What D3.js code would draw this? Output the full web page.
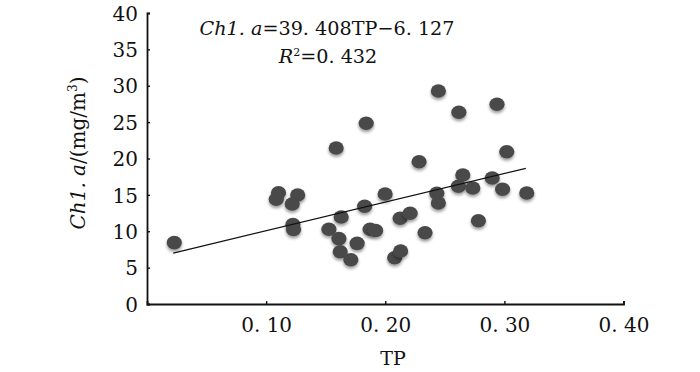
<!DOCTYPE html>
<html><head><meta charset="utf-8">
<script src="https://cdn.jsdelivr.net/npm/d3@7"></script>
<style>
html,body{margin:0;padding:0;background:#fff;}
svg text{font-family:"DejaVu Serif","Liberation Serif",serif;fill:#111;}
</style></head>
<body><svg id="c" width="700" height="372"></svg>
<script>
// Data
const tp = [0.0229,0.1104,0.1085,0.1265,0.1219,0.1225,0.1230,0.1588,0.1840,0.1630,
            0.1527,0.1611,0.1622,0.1711,0.1764,0.1873,0.1919,0.1827,0.1999,0.2125,
            0.2209,0.2079,0.2129,0.2284,0.2334,0.2433,0.2446,0.2446,0.2618,0.2938,
            0.3020,0.2651,0.2898,0.2614,0.2735,0.2985,0.3188,0.2782];
const chla = [8.43,15.30,14.39,14.98,13.75,10.93,10.24,21.44,24.84,11.96,
              10.27,8.98,7.19,6.09,8.34,10.27,10.10,13.43,15.12,11.78,
              12.47,6.36,7.29,19.56,9.80,15.22,13.88,29.28,26.35,27.45,
              20.93,17.73,17.32,16.18,15.95,15.77,15.26,11.44];
const xTicks = [0.10,0.20,0.30,0.40];
const yTicks = [0,5,10,15,20,25,30,35,40];
const fitSlope = 39.408, fitIntercept = 6.127; // as drawn
const fitRange = [0.022, 0.318];

const svg = d3.select("#c");
const x = d3.scaleLinear().domain([0,0.4]).range([147,623.5]);
const y = d3.scaleLinear().domain([0,40]).range([304,13]);

const defs = svg.append("defs");
const f = defs.append("filter").attr("id","sh").attr("x","-50%").attr("y","-50%").attr("width","200%").attr("height","200%");
f.append("feDropShadow").attr("dx",0).attr("dy",2.2).attr("stdDeviation",1.8)
 .attr("flood-color","#000").attr("flood-opacity",0.4);

// axes
const xAxis = d3.axisBottom(x).tickValues(xTicks).tickSizeInner(-3).tickSizeOuter(-3)
  .tickFormat(d => d3.format(".2f")(d).replace(".", ". "));
const gx = svg.append("g").attr("transform","translate(0,304)").call(xAxis);
gx.select(".domain").attr("stroke","#111").attr("stroke-width",1.8);
gx.selectAll(".tick line").attr("stroke","#111").attr("stroke-width",1.4);
gx.selectAll(".tick text").attr("font-size",20).attr("dy",0).attr("y",28).attr("fill","#000")
  .style("font-family",'"DejaVu Serif",serif');

const yAxis = d3.axisLeft(y).tickValues(yTicks).tickSizeInner(-3).tickSizeOuter(-3);
const gy = svg.append("g").attr("transform","translate(147,0)").call(yAxis);
gy.select(".domain").attr("stroke","#111").attr("stroke-width",1.8);
gy.selectAll(".tick line").attr("stroke","#111").attr("stroke-width",1.4);
gy.selectAll(".tick text").attr("font-size",20).attr("x",-9).attr("dy","0.36em").attr("fill","#000")
  .style("font-family",'"DejaVu Serif",serif');

// points
svg.append("g").selectAll("ellipse").data(tp.map((v,i)=>[v,chla[i]])).join("ellipse")
  .attr("cx",d=>x(d[0])).attr("cy",d=>y(d[1])).attr("rx",7.6).attr("ry",6.8)
  .attr("fill","#4a4a4a").attr("filter","url(#sh)");

// regression line
svg.append("line")
  .attr("x1",x(fitRange[0])).attr("y1",y(fitSlope*fitRange[0]+fitIntercept))
  .attr("x2",x(fitRange[1])).attr("y2",y(fitSlope*fitRange[1]+fitIntercept))
  .attr("stroke","#111").attr("stroke-width",1.3);

// equation
const t1 = svg.append("text").attr("x",327).attr("y",35).attr("text-anchor","middle").attr("font-size",19.2).attr("fill","#000");
t1.append("tspan").attr("font-style","italic").text("Ch1. a");
t1.append("tspan").text("=39. 408TP\u22126. 127");
const t2 = svg.append("text").attr("x",328).attr("y",63).attr("text-anchor","middle").attr("font-size",19.2).attr("fill","#000");
t2.append("tspan").attr("font-style","italic").text("R");
t2.append("tspan").attr("font-size",11).attr("dy",-7).text("2");
t2.append("tspan").attr("dy",7).text("=0. 432");

// y label
const yl = svg.append("text").attr("transform","translate(85,153) rotate(-90)")
  .attr("text-anchor","middle").attr("font-size",20).attr("fill","#000");
yl.append("tspan").attr("font-style","italic").text("Ch1. a");
yl.append("tspan").text("/(mg/m");
yl.append("tspan").attr("font-size",12).attr("dy",-8).text("3");
yl.append("tspan").attr("dy",8).text(")");

// x label
svg.append("text").attr("x",393).attr("y",365).attr("text-anchor","middle").attr("font-size",19).attr("fill","#000").text("TP");
</script></body></html>
